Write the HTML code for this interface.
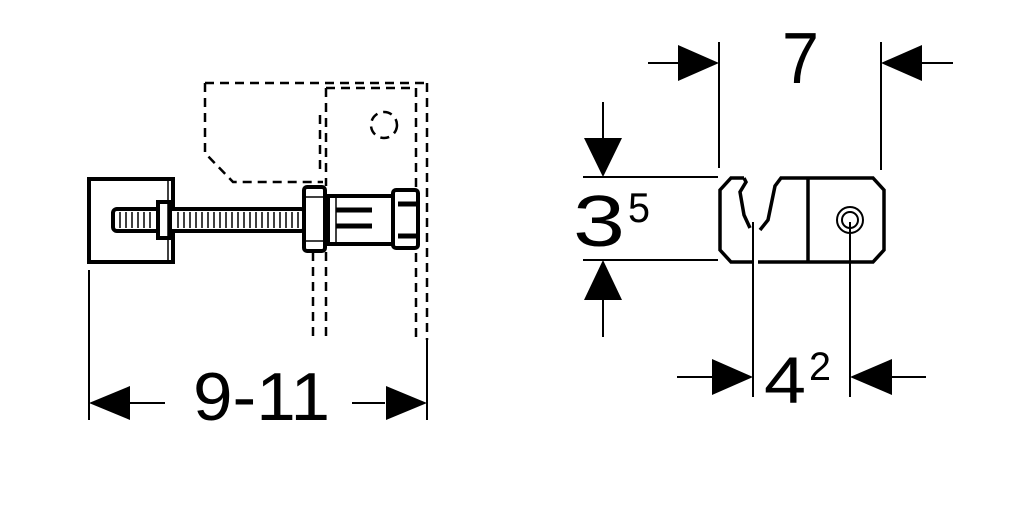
<!DOCTYPE html>
<html><head><meta charset="utf-8"><style>
html,body{margin:0;padding:0;background:#fff;}
svg{display:block;}
text{font-family:"Liberation Sans",Arial,sans-serif;fill:#000;}
</style></head><body>
<svg width="1024" height="528" viewBox="0 0 1024 528" xmlns="http://www.w3.org/2000/svg">
<g fill="none" stroke="#000" stroke-width="2.5" stroke-dasharray="9,6">
<path d="M205 83 L427 83 M205 83 L205 153 L233 182 L323 182"/>
<path d="M326 88 L416 88 L416 340 M427 83 L427 340"/>
<path d="M320 115 L320 175 M326 88 L326 186 M313 252 L313 340 M326 252 L326 340"/>
<circle cx="384" cy="125" r="13"/>
</g>
<g fill="#fff" stroke="#000" stroke-width="4">
<rect x="89" y="179" width="84" height="83"/>
<rect x="113" y="209" width="192" height="22" rx="4"/>
<rect x="158" y="202" width="12" height="36"/>
<rect x="304" y="187" width="21" height="64" rx="3"/>
<rect x="328" y="196" width="66" height="48"/>
<rect x="393" y="190" width="25" height="58" rx="3"/>
</g>
<g stroke="#000" stroke-width="1.5">
<path d="M120 212V228M126 212V228M132 212V228M138 212V228M144 212V228M150 212V228M178 212V228M184 212V228M190 212V228M196 212V228M202 212V228M208 212V228M214 212V228M220 212V228M226 212V228M232 212V228M238 212V228M244 212V228M250 212V228M256 212V228M262 212V228M268 212V228M274 212V228M280 212V228M286 212V228M292 212V228M298 212V228"/>
<path d="M168 180V261M306 197H324M306 241H324M336 198V242"/>
</g>
<g stroke="#000" stroke-width="5"><path d="M336 210H372M336 226H372M398 204H416M398 236H416"/></g>
<g stroke="#000" stroke-width="2">
<path d="M89 270V420M427 340V420M130 403H165M352 403H385"/>
<path d="M719 42V168M881 42V170M648 63H678M922 63H953"/>
<path d="M583 177H718M583 260H718M603 102V138M603 300V337"/>
<path d="M753 222V397M850 222V397M677 377H712M892 377H926"/>
</g>
<g fill="#000">
<path d="M89 403L130 386L130 420Z"/><path d="M427 403L386 386L386 420Z"/>
<path d="M719 63L678 45L678 81Z"/><path d="M881 63L922 45L922 81Z"/>
<path d="M603 177L584 138L622 138Z"/><path d="M603 260L584 300L622 300Z"/>
<path d="M753 377L712 359L712 395Z"/><path d="M850 377L892 359L892 395Z"/>
</g>
<g fill="none" stroke="#000" stroke-width="3.5">
<path d="M744 178 L731 178 L720 190 L720 250 L731 262 L752 262 M758 262 L873 262 L884 250 L884 190 L873 178 L781 178 L775 186 L768 220 L760 230"/>
<path d="M744 178 L746 182 L740 192 L744 215 L750 228"/>
<path d="M808 178V262"/>
<circle cx="850" cy="220" r="13" stroke-width="2"/><circle cx="850" cy="220" r="8" stroke-width="2"/>
</g>
<text x="193" y="420" font-size="68" textLength="137" lengthAdjust="spacingAndGlyphs">9-11</text>
<text x="782" y="83" font-size="72" textLength="37" lengthAdjust="spacingAndGlyphs">7</text>
<text x="573" y="246" font-size="72" textLength="52" lengthAdjust="spacingAndGlyphs">3</text>
<text x="628" y="222" font-size="42" textLength="22" lengthAdjust="spacingAndGlyphs">5</text>
<text x="764" y="403" font-size="66" textLength="42" lengthAdjust="spacingAndGlyphs">4</text>
<text x="809" y="380" font-size="40" textLength="22" lengthAdjust="spacingAndGlyphs">2</text>
</svg>
</body></html>
